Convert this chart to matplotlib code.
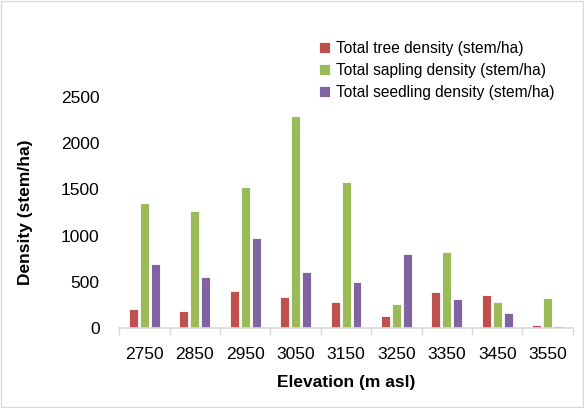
import numpy as np
import matplotlib.pyplot as plt
from matplotlib.patches import Rectangle

# ---------------------------------------------------------
# data
# ---------------------------------------------------------

elevations = ["2750", "2850", "2950", "3050", "3150", "3250", "3350", "3450", "3550"]

tree_density = [208, 187, 403, 331, 281, 126, 385, 353, 32]
sapling_density = [1350, 1264, 1523, 2300, 1580, 259, 821, 284, 324]
seedling_density = [694, 551, 980, 612, 493, 799, 310, 165, 25]

series_labels = [
    "Total tree density (stem/ha)",
    "Total sapling density (stem/ha)",
    "Total seedling density (stem/ha)",
]
series_colors = ["#C0504D", "#9BBB59", "#8064A2"]

# ---------------------------------------------------------
# plot
# ---------------------------------------------------------

plt.rcParams["font.family"] = ["Liberation Sans", "DejaVu Sans"]

fig = plt.figure(figsize=(5.84, 4.08), dpi=100)
ax = fig.add_axes([0.204, 0.196, 0.777, 0.566])

x = np.arange(len(elevations))
width = 0.178
step = 0.218

for k, (vals, lab, col) in enumerate(zip(
        [tree_density, sapling_density, seedling_density],
        series_labels, series_colors)):
    ax.bar(x + (k - 1) * step, vals, width, color=col, label=lab,
           edgecolor="white", linewidth=0.6)

ax.set_xlim(-0.5, len(elevations) - 0.5)
ax.set_ylim(0, 2500)
ax.set_yticks([0, 500, 1000, 1500, 2000, 2500])

ax.set_xticks(x)
ax.set_xticklabels(elevations)
ax.set_xticks(np.arange(-0.5, len(elevations)), minor=True)
ax.tick_params(axis="x", which="major", length=0, labelsize=12.5, pad=14)
ax.tick_params(axis="x", which="minor", length=5, color="#D9D9D9", width=1)
ax.tick_params(axis="y", length=0, labelsize=12.5, pad=14)

for side in ["top", "right", "left"]:
    ax.spines[side].set_visible(False)
ax.spines["bottom"].set_color("#D9D9D9")
ax.spines["bottom"].set_linewidth(1.2)

ax.set_xlabel("Elevation (m asl)", fontsize=12.5, fontweight="bold", labelpad=9)
ax.set_ylabel("Density (stem/ha)", fontsize=12.5, fontweight="bold", labelpad=20)

ax.legend(loc="upper left", bbox_to_anchor=(0.535, 0.915),
          bbox_transform=fig.transFigure, frameon=False, fontsize=11.2,
          handlelength=0.7, handleheight=0.7, handletextpad=0.4,
          labelspacing=0.45, borderaxespad=0)

# light frame round the whole chart
fig.patches.append(Rectangle((0.002, 0.003), 0.996, 0.994, transform=fig.transFigure,
                             fill=False, edgecolor="#D9D9D9", linewidth=1))

fig.savefig("out.png", dpi=100)
